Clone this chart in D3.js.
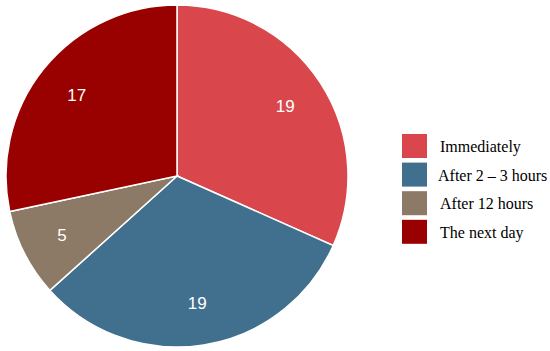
<!DOCTYPE html>
<html>
<head>
<meta charset="utf-8">
<script src="https://cdn.jsdelivr.net/npm/d3@7"></script>
<style>
  body { margin: 0; background: #fff; }
  svg { display: block; }
</style>
</head>
<body>
<div id="vis"></div>
<script>
// chart data
var categories = ["Immediately", "After 2 \u2013 3 hours", "After 12 hours", "The next day"],
    values = [19, 19, 5, 17],
    colors = ["#d9474d", "#41708f", "#8c7966", "#990000"];

var width = 550,
    height = 351,
    cx = 177,
    cy = 176,
    radius = 171;

var svg = d3.select("#vis").append("svg")
    .attr("width", width)
    .attr("height", height);

var color = d3.scaleOrdinal()
    .domain(categories)
    .range(colors);

var pie = d3.pie()
    .sort(null)
    .value(function(d, i) { return values[i]; });

var arc = d3.arc()
    .innerRadius(0)
    .outerRadius(radius);

var labelArc = d3.arc()
    .innerRadius(radius * 0.755)
    .outerRadius(radius * 0.755);

var g = svg.append("g")
    .attr("transform", "translate(" + cx + "," + cy + ")");

var slices = g.selectAll("g.slice")
    .data(pie(categories))
    .enter().append("g")
      .attr("class", "slice");

slices.append("path")
    .attr("d", arc)
    .attr("fill", function(d) { return color(d.data); })
    .attr("stroke", "#fff")
    .attr("stroke-width", 1.5);

slices.append("text")
    .attr("transform", function(d) { return "translate(" + labelArc.centroid(d) + ")"; })
    .attr("text-anchor", "middle")
    .attr("dy", "0.35em")
    .attr("fill", "#fff")
    .style("font-family", "'Liberation Sans', Arial, sans-serif")
    .style("font-size", "17px")
    .text(function(d) { return d.value; });

// legend
var legend = svg.append("g")
    .attr("transform", "translate(402,134)");

var rows = legend.selectAll("g")
    .data(categories)
    .enter().append("g")
      .attr("transform", function(d, i) { return "translate(0," + (i * 28.6) + ")"; });

rows.append("rect")
    .attr("width", 25)
    .attr("height", 24)
    .attr("fill", function(d) { return color(d); });

rows.append("text")
    .attr("x", function(d, i) { return i == 1 ? 36 : 38; })
    .attr("y", 18)
    .attr("fill", "#000")
    .style("font-family", "'Liberation Serif', 'Times New Roman', serif")
    .style("font-size", "16px")
    .text(function(d) { return d; });
</script>
</body>
</html>
